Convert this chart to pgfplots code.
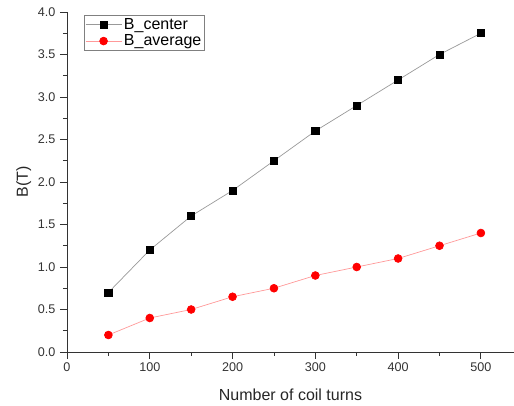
\documentclass[border=0pt]{standalone}
\usepackage{pgfplots}
\pgfplotsset{compat=1.18}
\usepackage{fontspec}
\setmainfont{Liberation Sans}
\begin{document}
\begin{tikzpicture}[font=\fontsize{12.6}{15}\selectfont]
% fixed frame: axis box is 447pt x 340pt, margins as in the reference
\path[use as bounding box] (-67pt,-54pt) rectangle (447pt,352pt);
\begin{axis}[
  at={(0pt,0pt)}, anchor=south west,
  scale only axis,
  width=447pt, height=340pt,
  xmin=0, xmax=540, ymin=0, ymax=4.0,
  axis x line*=bottom, axis y line*=left,
  axis line style={draw=black!80, line width=0.9pt, -},
  xtick={0,100,...,500}, minor xtick={50,150,...,450},
  ytick={0,0.5,...,4.0}, minor ytick={0.25,0.75,...,3.75},
  tick align=outside, tick style={draw=black!80, line width=0.8pt},
  major tick length=7pt, minor tick length=4pt,
  /pgf/number format/assume math mode=true,
  ticklabel style={text=black!80},
  yticklabel style={xshift=-1pt, /pgf/number format/.cd, fixed, fixed zerofill, precision=1},
  xlabel={Number of coil turns}, ylabel={B(T)},
  label style={font=\fontsize{16}{18}\selectfont, text=black!85},
  xlabel style={yshift=-11pt},
  legend style={at={(0.038,0.991)}, anchor=north west, draw=black!50, line width=0.5pt,
    font=\fontsize{16}{19}\selectfont, inner sep=1pt, row sep=0pt},
  legend cell align=left,
  legend image code/.code={\draw[mark repeat=2,mark phase=2] plot coordinates {(0pt,0pt) (18pt,0pt) (36pt,0pt)};},
  clip=false,
]
\addplot[draw=black!40, line width=0.7pt, mark=square*, mark size=3.6pt,
  mark options={draw=black, fill=black}] coordinates {
  (50,0.7) (100,1.2) (150,1.6) (200,1.9) (250,2.25)
  (300,2.6) (350,2.9) (400,3.2) (450,3.5) (500,3.75)
};
\addlegendentry{B\_center}
\addplot[draw=red!40, line width=0.7pt, mark=*, mark size=3.9pt,
  mark options={draw=red, fill=red}] coordinates {
  (50,0.2) (100,0.4) (150,0.5) (200,0.65) (250,0.75)
  (300,0.9) (350,1.0) (400,1.1) (450,1.25) (500,1.4)
};
\addlegendentry{B\_average}
\end{axis}
\end{tikzpicture}
\end{document}
